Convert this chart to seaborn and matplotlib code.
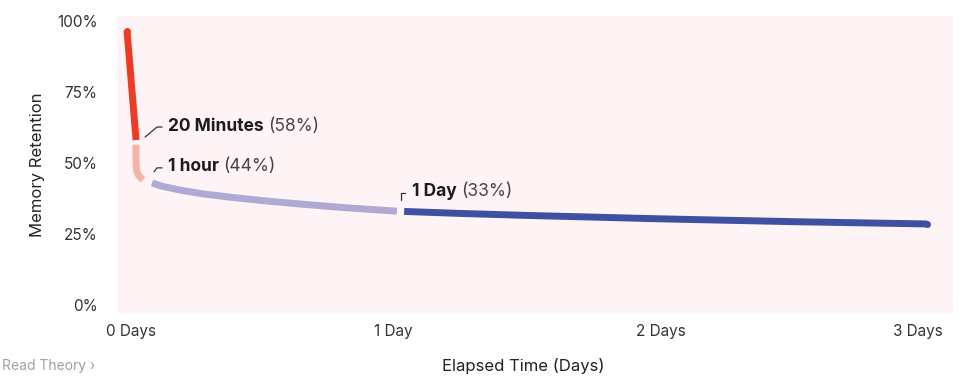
import matplotlib
matplotlib.use("Agg")
import matplotlib.pyplot as plt
import matplotlib.transforms as mtransforms
import pandas as pd
import seaborn as sns

# ---- data -------------------------------------------------------------
phase_names = ["0-20 min", "20 min-1 h", "1 h-1 day", "1-3 days"]
phase_days = [
    [0.0, 0.034],
    [0.034, 0.0335, 0.0345, 0.037, 0.043, 0.060],
    [0.094, 0.13, 0.199, 0.29, 0.397, 0.52, 0.649, 0.82, 1.012],
    [1.039, 1.25, 1.5, 1.75, 2.0, 2.5, 3.0],
]
phase_retention = [
    [96.5, 58.0],
    [56.3, 53.0, 49.0, 47.0, 45.6, 44.0],
    [42.9, 41.8, 40.4, 39.0, 37.8, 36.6, 35.5, 34.2, 33.0],
    [32.9, 32.2, 31.5, 30.9, 30.3, 29.3, 28.5],
]
phase_colors = ["#ee3b24", "#f5b2a5", "#aeaad3", "#3e50a2"]

milestone_names = ["20 Minutes", "1 hour", "1 Day"]
milestone_days = [0.034, 0.060, 1.012]
milestone_retention = [58, 44, 33]

x_ticks = [0, 1, 2, 3]
x_tick_labels = ["0 Days", "1 Day", "2 Days", "3 Days"]
y_ticks = [0, 25, 50, 75, 100]
y_tick_labels = ["0%", "25%", "50%", "75%", "100%"]

# ---- style ------------------------------------------------------------
sns.set_theme(style="white")
plt.rcParams["font.family"] = ["Inter", "DejaVu Sans"]

frames = [
    pd.DataFrame({"days": d, "retention": r, "phase": n})
    for n, d, r in zip(phase_names, phase_days, phase_retention)
]
df = pd.concat(frames, ignore_index=True)

fig = plt.figure(figsize=(9.64, 3.76), dpi=100)
ax = fig.add_axes([117 / 964, 63 / 376, 836 / 964, 297 / 376])
ax.set_facecolor("#fff4f5")

LW = 5.0
sns.lineplot(
    data=df, x="days", y="retention", hue="phase",
    palette=dict(zip(phase_names, phase_colors)),
    estimator=None, sort=False, linewidth=LW, legend=False,
    solid_capstyle="butt", solid_joinstyle="round", ax=ax,
)
# rounded ends at the very start and the very end of the curve
ax.plot(phase_days[0][0], phase_retention[0][0], "o", ms=LW,
        color=phase_colors[0], mec="none")
ax.plot(phase_days[-1][-1], phase_retention[-1][-1], "o", ms=LW,
        color=phase_colors[-1], mec="none")

ax.set_xlim(-0.0375, 3.097)
ax.set_ylim(-2.8, 101.6)
for s in ax.spines.values():
    s.set_visible(False)

ax.set_xticks(x_ticks)
ax.set_xticklabels(x_tick_labels)
ax.set_yticks(y_ticks)
ax.set_yticklabels(y_tick_labels)
ax.tick_params(axis="x", length=0, pad=8, labelsize=11, labelcolor="#333333")
ax.tick_params(axis="y", length=0, pad=14, labelsize=11, labelcolor="#333333")

# nudge the outer x labels slightly inward
xlabels = ax.get_xticklabels()
for lab, dx in ((xlabels[0], 4), (xlabels[-1], -9)):
    lab.set_transform(lab.get_transform()
                      + mtransforms.ScaledTranslation(dx / 100, 0, fig.dpi_scale_trans))

ax.set_xlabel("Elapsed Time (Days)", fontsize=12, color="#222222")
ax.set_ylabel("Memory Retention", fontsize=12, color="#222222", va="center")
ax.xaxis.set_label_coords(0.486, -0.152)
ax.yaxis.set_label_coords(-0.0945, 0.5)

# ---- milestone callouts -------------------------------------------------
leaders = [
    [(9, 3), (21, 13), (26, 13)],
    [(11, 8), (14, 12), (19, 12)],
    [(4, 11), (4, 18), (8, 18)],
]
text_offsets = [(32, 14), (25, 13), (15, 20)]

for name, xd, yr, lead, (tx, ty) in zip(milestone_names, milestone_days,
                                        milestone_retention, leaders, text_offsets):
    trans = (mtransforms.Affine2D().scale(1.0)
             + mtransforms.ScaledTranslation(xd, yr, ax.transData))
    lx, ly = zip(*lead)
    ax.plot(lx, ly, color="#333333", lw=0.9, transform=trans, clip_on=False)
    bold = ax.annotate(name, xy=(xd, yr), xytext=(tx, ty),
                       textcoords="offset pixels", va="center", ha="left",
                       fontsize=12.5, fontweight="bold", color="#1c1c1c")
    ax.annotate(f"({yr}%)", xy=(1, 0.5), xycoords=bold, xytext=(4, 0),
                textcoords="offset pixels", va="center", ha="left",
                fontsize=12.5, color="#444444")

# small link text in the bottom-left corner
fig.text(0.002, 0.008, "Read Theory \u203a", fontsize=10, color="#a0a0a0",
         va="bottom", ha="left")

fig.savefig("out.png", dpi=100)
